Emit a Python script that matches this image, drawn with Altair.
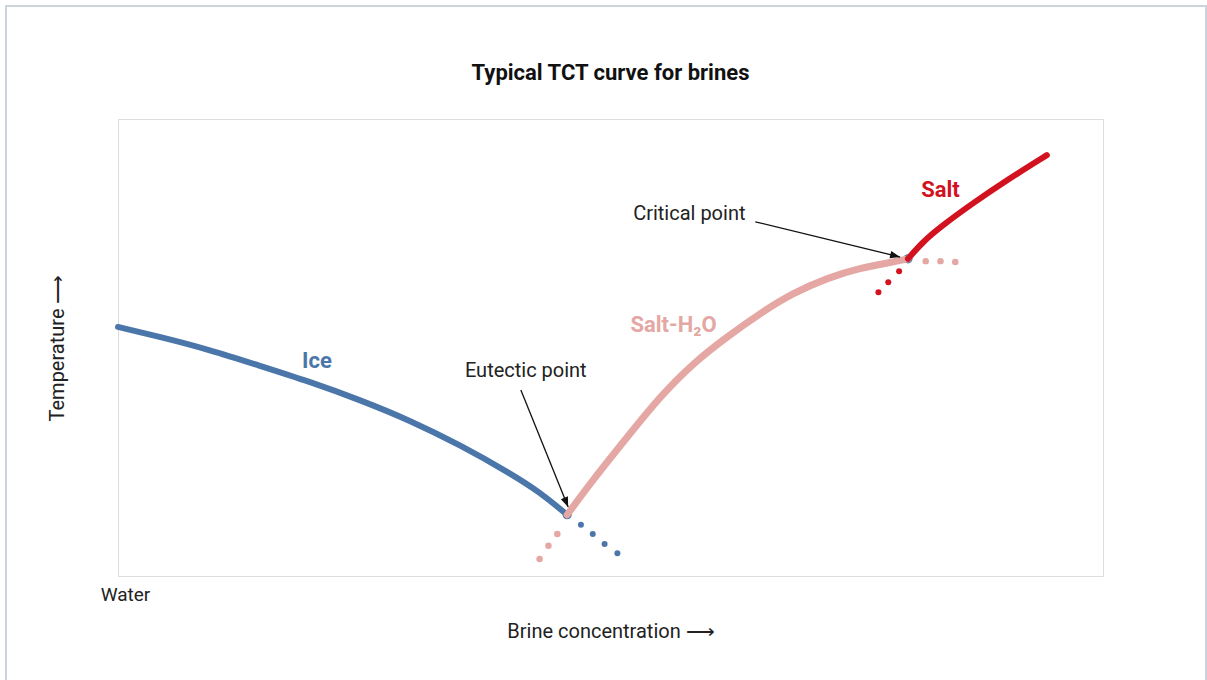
import math
import altair as alt
import pandas as pd

# ---- data (x: brine concentration 0-100, y: temperature 0-100, arbitrary units) ----
ice_x = [0, 4.3, 9.3, 14.4, 19.5, 24.6, 29.6, 34.7, 39.8, 42.8, 45.6]
ice_y = [54.5, 52.3, 49.5, 46.0, 42.5, 38.5, 34.1, 28.7, 22.5, 18.4, 13.4]
ice_dots_x = [47.0, 48.2, 49.4, 50.7]
ice_dots_y = [11.2, 9.2, 7.0, 5.0]

brine_x = [45.6, 48.2, 51.7, 55.0, 58.4, 61.8, 65.2, 68.5, 72.0, 75.3, 78.7, 80.2]
brine_y = [13.4, 21.0, 30.4, 39.2, 46.6, 52.3, 57.5, 61.9, 65.2, 67.4, 68.7, 69.4]
brine_dots_x = [44.6, 43.7, 42.8, 82.0, 83.5, 85.0]
brine_dots_y = [9.2, 6.6, 3.7, 68.9, 68.9, 68.7]

salt_x = [80.2, 81.7, 83.5, 86.8, 90.3, 94.3]
salt_y = [69.4, 73.1, 76.4, 81.6, 86.7, 92.1]
salt_dots_x = [79.3, 78.2, 77.2]
salt_dots_y = [66.7, 64.3, 62.1]

special_x = [45.6, 80.2]          # eutectic, critical point
special_y = [13.4, 69.4]

arrow_x = [40.9, 64.7]
arrow_y = [40.7, 77.5]
arrow_x2 = [45.7, 79.4]
arrow_y2 = [15.1, 69.8]

note_text = ["Eutectic point", "Critical point"]
note_x = [41.4, 58.0]
note_y = [44.9, 79.2]

series_text = ["Ice", "Salt-H\u2082O", "Salt"]
series_x = [20.2, 56.4, 83.5]
series_y = [47.0, 54.9, 84.5]

BLUE = "#4b76a9"
PINK = "#e4a7a3"
RED = "#d3121f"
FONT = "Roboto"

W, H = 985, 457
X_DOM, Y_DOM = [0, 100], [0, 100]

xscale = alt.Scale(domain=X_DOM, nice=False, zero=False)
yscale = alt.Scale(domain=Y_DOM, nice=False, zero=False)
xaxis = alt.Axis(values=[0], labelExpr="'Water'", ticks=False, domain=False, grid=False,
                 labelFont=FONT, labelFontSize=19, labelColor="#222", labelPadding=9,
                 labelOffset=7, labelFlush=False, labelBaseline="top",
                 title="Brine concentration \u27f6", titleFont=FONT, titleFontSize=20,
                 titleFontWeight="normal", titleColor="#222", titleY=55, titleBaseline="middle")
yaxis = alt.Axis(labels=False, ticks=False, domain=False, grid=False,
                 title="Temperature \u27f6", titleFont=FONT, titleFontSize=20,
                 titleFontWeight="normal", titleColor="#222", titleX=-61, titleBaseline="middle")


def X(f="x"):
    return alt.X(f"{f}:Q", scale=xscale, axis=xaxis)


def Y(f="y"):
    return alt.Y(f"{f}:Q", scale=yscale, axis=yaxis)


def df(xs, ys):
    return pd.DataFrame({"x": xs, "y": ys, "i": range(len(xs))})


ice = alt.Chart(df(ice_x, ice_y)).mark_line(color=BLUE, strokeWidth=6, interpolate="basis",
                                             strokeCap="round").encode(x=X(), y=Y(), order="i:O")
ice_d = alt.Chart(df(ice_dots_x, ice_dots_y)).mark_circle(color=BLUE, size=36, opacity=1).encode(x=X(), y=Y())

spec = alt.Chart(df(special_x, special_y)).mark_circle(color=BLUE, size=85, opacity=1).encode(x=X(), y=Y())
eut_red = alt.Chart(df(special_x[:1], special_y[:1])).mark_circle(color=RED, size=25, opacity=1).encode(x=X(), y=Y())

brine = alt.Chart(df(brine_x, brine_y)).mark_line(color=PINK, strokeWidth=7, interpolate="basis",
                                                   strokeCap="round").encode(x=X(), y=Y(), order="i:O")
brine_d = alt.Chart(df(brine_dots_x, brine_dots_y)).mark_circle(color=PINK, size=42, opacity=1).encode(x=X(), y=Y())

salt = alt.Chart(df(salt_x, salt_y)).mark_line(color=RED, strokeWidth=6, interpolate="basis",
                                                strokeCap="round").encode(x=X(), y=Y(), order="i:O")
salt_d = alt.Chart(df(salt_dots_x, salt_dots_y)).mark_circle(color=RED, size=36, opacity=1).encode(x=X(), y=Y())

# arrows
px_x = W / (X_DOM[1] - X_DOM[0])
px_y = H / (Y_DOM[1] - Y_DOM[0])
angles = []
for x1, y1, x2, y2 in zip(arrow_x, arrow_y, arrow_x2, arrow_y2):
    dx = (x2 - x1) * px_x
    dy = -(y2 - y1) * px_y
    angles.append(math.degrees(math.atan2(dx, -dy)) % 360)

arr = pd.DataFrame({"x": arrow_x, "y": arrow_y, "x2": arrow_x2, "y2": arrow_y2, "ang": angles})
shaft = alt.Chart(arr).mark_rule(color="#111", strokeWidth=1.3).encode(
    x=X(), y=Y(), x2="x2:Q", y2="y2:Q")
head = alt.Chart(arr).mark_point(shape="M0,0L-0.38,1L0.38,1Z", filled=True, color="#111",
                                 size=400, opacity=1).encode(
    x=X("x2"), y=Y("y2"), angle=alt.Angle("ang:Q", scale=None))

notes = alt.Chart(pd.DataFrame({"x": note_x, "y": note_y, "t": note_text})).mark_text(
    font=FONT, fontSize=20, color="#222", baseline="middle", align="center").encode(
    x=X(), y=Y(), text="t:N")

slabels = alt.Chart(pd.DataFrame({"x": series_x, "y": series_y, "t": series_text,
                                  "c": [BLUE, PINK, RED]})).mark_text(
    font=FONT, fontSize=22, fontWeight="bold", baseline="middle", align="center").encode(
    x=X(), y=Y(), text="t:N", color=alt.Color("c:N", scale=None))

frame = alt.Chart(pd.DataFrame({"x": [0]})).mark_rect(
    fillOpacity=0, stroke="#ccd3da", strokeWidth=2).encode(
    x=alt.value(-112), x2=alt.value(1088), y=alt.value(-113), y2=alt.value(620))

chart = alt.layer(
    frame, ice, ice_d, spec, eut_red, brine, brine_d, salt, salt_d, shaft, head, notes, slabels
).properties(
    width=W, height=H,
    title=alt.TitleParams("Typical TCT curve for brines", font=FONT, fontSize=22,
                          fontWeight="bold", color="#111", offset=0, dy=80, anchor="middle"),
    autosize=alt.AutoSizeParams(type="none"),
    padding={"left": 118, "top": 119, "right": 104, "bottom": 104},
).configure_view(stroke="#c8d0d8", strokeWidth=1).configure(background="white")

chart.save("out.html", embed_options={"renderer": "svg", "actions": False})
